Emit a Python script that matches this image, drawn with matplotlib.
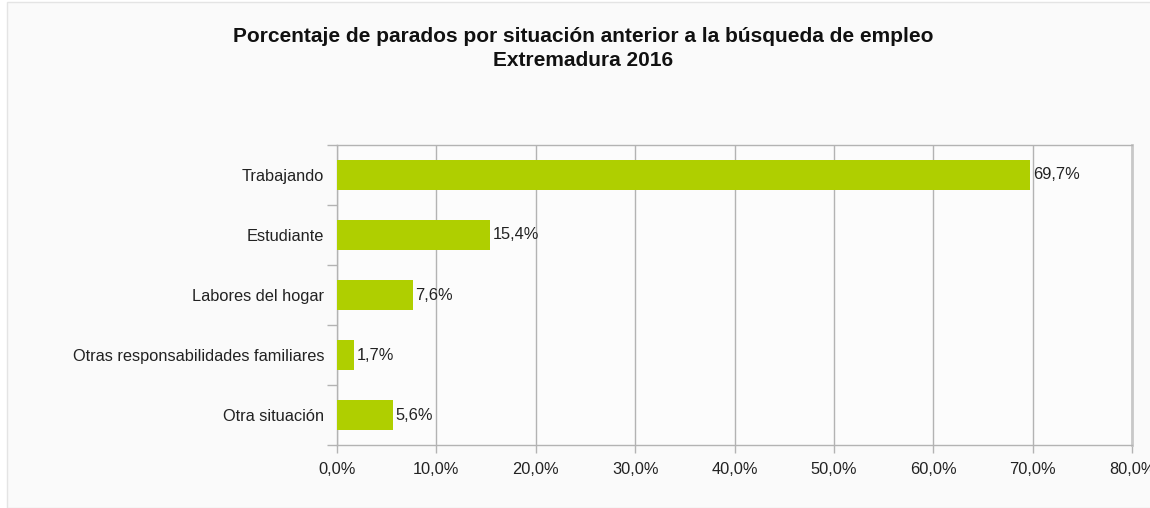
import matplotlib.pyplot as plt
from matplotlib.patches import Rectangle
from matplotlib.ticker import FixedLocator, NullFormatter

plt.rcParams['font.family'] = ['Liberation Sans', 'DejaVu Sans']

# Data
categories = ["Trabajando", "Estudiante", "Labores del hogar",
              "Otras responsabilidades familiares", "Otra situación"]
values = [69.7, 15.4, 7.6, 1.7, 5.6]
x_ticks = [0, 10, 20, 30, 40, 50, 60, 70, 80]

W, H = 1150, 508
fig = plt.figure(figsize=(W / 100, H / 100), dpi=100, facecolor='white')

# light panel behind everything
fig.patches.append(Rectangle((7 / W, 0), 1, 1 - 1.5 / H, transform=fig.transFigure,
                             facecolor='#fafafa', edgecolor='#e4e4e4', lw=1, zorder=-5))

left, right = 337 / W, 1132 / W
top, bottom = 1 - 145 / H, 1 - 445 / H
ax = fig.add_axes([left, bottom, right - left, top - bottom])
ax.set_zorder(1)
ax.set_facecolor('#fcfcfc')

n = len(categories)
ypos = list(range(n))
ax.barh(ypos, values, height=0.5, color='#afcf00', zorder=3)
ax.set_ylim(n - 0.5, -0.5)
ax.set_xlim(0, 80)

for y, v in zip(ypos, values):
    ax.text(v + 0.3, y, f"{v:.1f}%".replace('.', ','), va='center', ha='left',
            fontsize=11.8, color='#222222', zorder=4)

# category labels
ax.yaxis.set_major_locator(FixedLocator([i - 0.5 for i in range(n + 1)]))
ax.yaxis.set_major_formatter(NullFormatter())
ax.tick_params(axis='y', which='major', length=7, color='#b3b3b3', width=1)
ax.set_yticks(ypos, minor=True)
ax.set_yticklabels(categories, minor=True, fontsize=11.8, color='#222222')
ax.tick_params(axis='y', which='minor', length=0, pad=9)

ax.set_xticks(x_ticks)
ax.set_xticklabels([f"{t:.1f}%".replace('.', ',') for t in x_ticks], fontsize=11.8, color='#222222')
ax.tick_params(axis='x', length=6, color='#b3b3b3', width=1, pad=6)

ax.grid(axis='x', color='#b3b3b3', lw=1, zorder=1)
for s in ax.spines.values():
    s.set_color('#b3b3b3')
    s.set_linewidth(1)
ax.spines['right'].set_linewidth(2)
ax.spines['right'].set_color('#c8c8c8')

fig.text(583 / W, 1 - 37 / H, "Porcentaje de parados por situación anterior a la búsqueda de empleo",
         ha='center', va='center', fontsize=15, fontweight='bold', color='#111111')
fig.text(583 / W, 1 - 61 / H, "Extremadura 2016",
         ha='center', va='center', fontsize=15, fontweight='bold', color='#111111')

fig.savefig('out.png', dpi=100, facecolor='white')
